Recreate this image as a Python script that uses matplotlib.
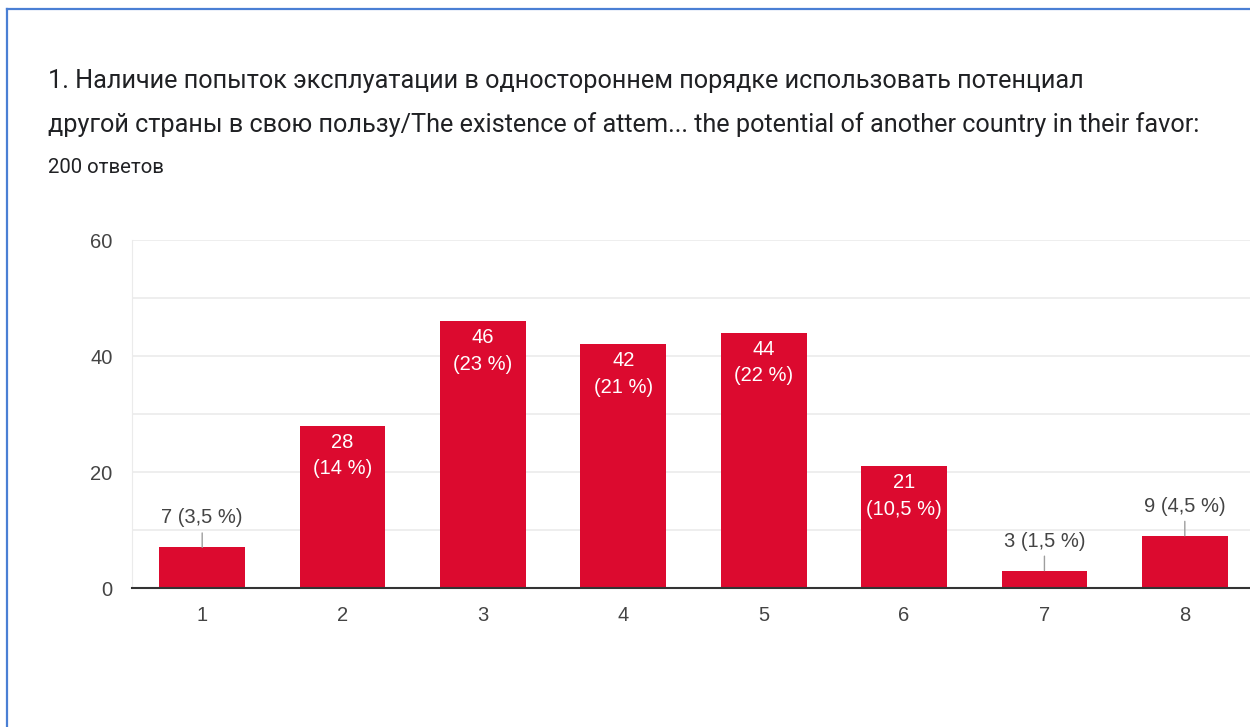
import matplotlib
matplotlib.use("Agg")
import matplotlib.pyplot as plt
from matplotlib.lines import Line2D

# данные
categories = [1, 2, 3, 4, 5, 6, 7, 8]
counts = [7, 28, 46, 42, 44, 21, 3, 9]
total = 200

title1 = "1. Наличие попыток эксплуатации в одностороннем порядке использовать потенциал"
title2 = "другой страны в свою пользу/The existence of attem... the potential of another country in their favor:"
subtitle = "200 ответов"

bar_color = "#DC0A2F"
text_color = "#444444"

plt.rcParams['font.family'] = ['Liberation Sans', 'DejaVu Sans']

fig = plt.figure(figsize=(12.5, 7.27), dpi=100)
W, H = 1250, 727

# рамка
fig.add_artist(Line2D([7 / W, 7 / W], [0, 1 - 9 / H], color="#4A7FD4", lw=1.6))
fig.add_artist(Line2D([7 / W, 1], [1 - 9 / H, 1 - 9 / H], color="#4A7FD4", lw=1.6))

# заголовок
fig.text(48 / W, 1 - 88 / H, title1, family=['Roboto', 'DejaVu Sans'], fontsize=18.2,
         color="#202124", va='baseline', ha='left')
fig.text(48 / W, 1 - 132 / H, title2, family=['Roboto', 'DejaVu Sans'], fontsize=18.2,
         color="#202124", va='baseline', ha='left')
fig.text(48 / W, 1 - 173 / H, subtitle, family=['Roboto', 'DejaVu Sans'], fontsize=14.7,
         color="#202124", va='baseline', ha='left')

ax = fig.add_axes([132 / W, 1 - 588 / H, (1255 - 132) / W, (588 - 240) / H])
ax.bar(categories, counts, width=0.61, color=bar_color, zorder=3)

ax.set_xlim(0.5, 8.5)
ax.set_ylim(0, 60)
ax.set_yticks([0, 20, 40, 60])
ax.set_yticks([10, 30, 50], minor=True)
ax.set_xticks(categories)
ax.grid(axis='y', which='both', color="#EBEBEB", lw=1.2, zorder=0)
ax.tick_params(axis='both', which='both', length=0, labelsize=14.5, labelcolor=text_color)
ax.tick_params(axis='y', pad=14)
ax.tick_params(axis='x', pad=13)

for s in ['top', 'right']:
    ax.spines[s].set_visible(False)
ax.spines['left'].set_color("#EBEBEB")
ax.spines['bottom'].set_color("#333333")
ax.spines['bottom'].set_linewidth(1.5)
ax.spines['bottom'].set_zorder(4)

for x, v in zip(categories, counts):
    pct = f"{v / total * 100:g}".replace('.', ',')
    if v >= 15:
        ax.annotate(f"{v}\n({pct} %)", xy=(x, v), xytext=(0, -7), textcoords='offset pixels',
                    ha='center', va='top', color='white', fontsize=14.5, linespacing=1.5, zorder=5)
    else:
        ax.annotate(f"{v} ({pct} %)", xy=(x, v), xytext=(0, 24), textcoords='offset pixels',
                    ha='center', va='baseline', color=text_color, fontsize=14.5, zorder=5,
                    arrowprops=dict(arrowstyle='-', color='#9E9E9E', lw=1, shrinkA=2, shrinkB=0))

fig.savefig("out.png", dpi=100)
